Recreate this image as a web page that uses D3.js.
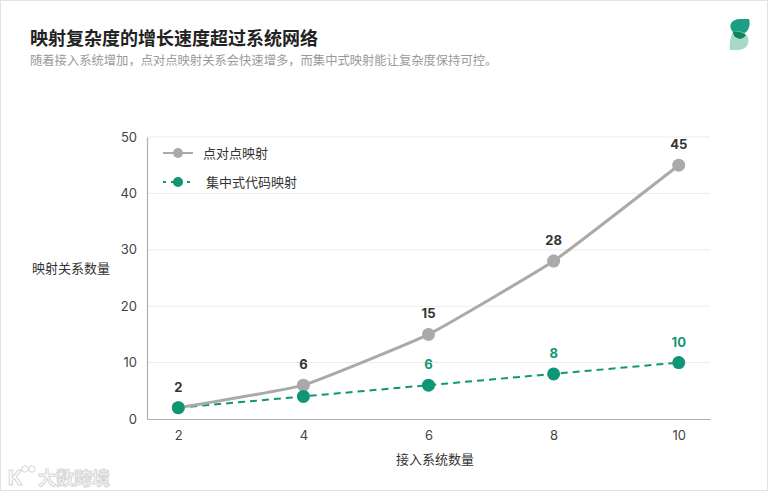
<!DOCTYPE html>
<html><head><meta charset="utf-8">
<script src="https://cdn.jsdelivr.net/npm/d3@7"></script>
<style>
html,body{margin:0;padding:0;background:#fff;}
svg{display:block;}
</style></head>
<body>
<svg id="c" width="768" height="491"></svg>
<script>
const systems = [2, 4, 6, 8, 10];
const p2pValues = [2, 6, 15, 28, 45];
const centralValues = [2, 4, 6, 8, 10];
const yTicks = [0, 10, 20, 30, 40, 50];
const seriesNames = ["点对点映射", "集中式代码映射"];
const title = "映射复杂度的增长速度超过系统网络";
const subtitle = "随着接入系统增加，点对点映射关系会快速增多，而集中式映射能让复杂度保持可控。";
const xTitle = "接入系统数量";
const yTitle = "映射关系数量";

const FONT = "Inter, 'Noto Sans CJK SC', sans-serif";
const GRAY = "#aaaaaa";
const GREEN = "#0f9775";

const svg = d3.select("#c");
svg.append("rect").attr("x",0.5).attr("y",0.5).attr("width",767).attr("height",490)
  .attr("fill","#fff").attr("stroke","#e3e3e3");

svg.append("text").attr("x",30).attr("y",45).text(title)
  .attr("font-family",FONT).attr("font-size",18).attr("font-weight",700).attr("fill","#222");
svg.append("text").attr("x",30).attr("y",65).text(subtitle)
  .attr("font-family",FONT).attr("font-size",12.3).attr("fill","#9a9a9a");

// logo
const logo = svg.append("g");
logo.append("path").attr("d","M733,32 C727,25 732,19 741,19 L749,19 C751,26 748,32 743,34 Z").attr("fill","#1b9e84");
logo.append("path").attr("d","M733,32 C738,31 746,31 748,38 C750,45 745,50 738,50 L730,50 C729,44 730,38 733,32 Z").attr("fill","#a9d9c6");
logo.append("path").attr("d","M733,32 C738,31 743,32 746,35 C745,37 743,38 740,39 C736,38 733,36 733,32 Z").attr("fill","#11845f");

const x = d3.scaleLinear().domain([1.5, 10.5]).range([147, 710]);
const y = d3.scaleLinear().domain([0, 50]).range([419, 137]);

// grid
svg.append("g").selectAll("line").data(yTicks.filter(d=>d>0)).join("line")
  .attr("x1",x(1.5)).attr("x2",x(10.5)).attr("y1",d=>y(d)).attr("y2",d=>y(d))
  .attr("stroke","#ececec").attr("stroke-width",1);

// axes
const yAxis = svg.append("g").attr("transform",`translate(${x(1.5)},0)`)
  .call(d3.axisLeft(y).tickValues(yTicks).tickSize(0).tickPadding(10));
const xAxis = svg.append("g").attr("transform",`translate(0,${y(0)})`)
  .call(d3.axisBottom(x).tickValues(systems).tickSize(0).tickPadding(12));
[xAxis, yAxis].forEach(a=>{
  a.select(".domain").attr("stroke","#b0b0b0").attr("stroke-width",1.2);
  a.selectAll("text").attr("font-family",FONT).attr("font-size",13).attr("fill","#444");
});

svg.append("text").attr("x",71).attr("y",273).attr("text-anchor","middle").text(yTitle)
  .attr("font-family",FONT).attr("font-size",13).attr("fill","#333");
svg.append("text").attr("x",435).attr("y",464).attr("text-anchor","middle").text(xTitle)
  .attr("font-family",FONT).attr("font-size",13).attr("fill","#333");

const p2p = systems.map((s,i)=>({x:s,y:p2pValues[i]}));
const central = systems.map((s,i)=>({x:s,y:centralValues[i]}));

// central dashed line
svg.append("path").datum(central)
  .attr("d", d3.line().x(d=>x(d.x)).y(d=>y(d.y)))
  .attr("fill","none").attr("stroke",GREEN).attr("stroke-width",2).attr("stroke-dasharray","7,5");

// p2p curve
svg.append("path").datum(p2p)
  .attr("d", d3.line().x(d=>x(d.x)).y(d=>y(d.y)).curve(d3.curveCardinal.tension(0.65)))
  .attr("fill","none").attr("stroke",GRAY).attr("stroke-width",3);

svg.append("g").selectAll("circle").data(p2p).join("circle")
  .attr("cx",d=>x(d.x)).attr("cy",d=>y(d.y)).attr("r",6.5).attr("fill",GRAY);
svg.append("g").selectAll("circle").data(central).join("circle")
  .attr("cx",d=>x(d.x)).attr("cy",d=>y(d.y)).attr("r",6.5).attr("fill",GREEN);

// labels
svg.append("g").selectAll("text").data(p2p).join("text")
  .attr("x",d=>x(d.x)).attr("y",d=>y(d.y)-16).attr("text-anchor","middle").text(d=>d.y)
  .attr("font-family",FONT).attr("font-size",13).attr("font-weight",700).attr("fill","#333");
svg.append("g").selectAll("text").data(central.slice(2)).join("text")
  .attr("x",d=>x(d.x)).attr("y",d=>y(d.y)-16).attr("text-anchor","middle").text(d=>d.y)
  .attr("font-family",FONT).attr("font-size",13).attr("font-weight",700).attr("fill",GREEN);

// legend
const lg = svg.append("g");
lg.append("line").attr("x1",163).attr("x2",193).attr("y1",153).attr("y2",153).attr("stroke",GRAY).attr("stroke-width",2);
lg.append("circle").attr("cx",178).attr("cy",153).attr("r",5).attr("fill",GRAY);
lg.append("text").attr("x",203).attr("y",153).attr("dy","0.35em").text(seriesNames[0])
  .attr("font-family",FONT).attr("font-size",13).attr("fill","#333");
lg.append("line").attr("x1",163).attr("x2",193).attr("y1",182).attr("y2",182).attr("stroke",GREEN).attr("stroke-width",2).attr("stroke-dasharray","3,5");
lg.append("circle").attr("cx",178).attr("cy",182).attr("r",5).attr("fill",GREEN);
lg.append("text").attr("x",206).attr("y",182).attr("dy","0.35em").text(seriesNames[1])
  .attr("font-family",FONT).attr("font-size",13).attr("fill","#333");

// watermark
const wm = svg.append("g").attr("fill","#fff").attr("stroke","#d6d6d6").attr("stroke-width",1);
wm.append("text").attr("x",8).attr("y",485).text("K")
  .attr("font-family",FONT).attr("font-size",20).attr("font-weight",700);
wm.append("circle").attr("cx",25).attr("cy",469).attr("r",3.2);
wm.append("circle").attr("cx",32).attr("cy",469).attr("r",3.2);
wm.append("text").attr("x",38).attr("y",485).text("大数跨境")
  .attr("font-family",FONT).attr("font-size",18).attr("font-weight",700);
</script>
</body></html>
